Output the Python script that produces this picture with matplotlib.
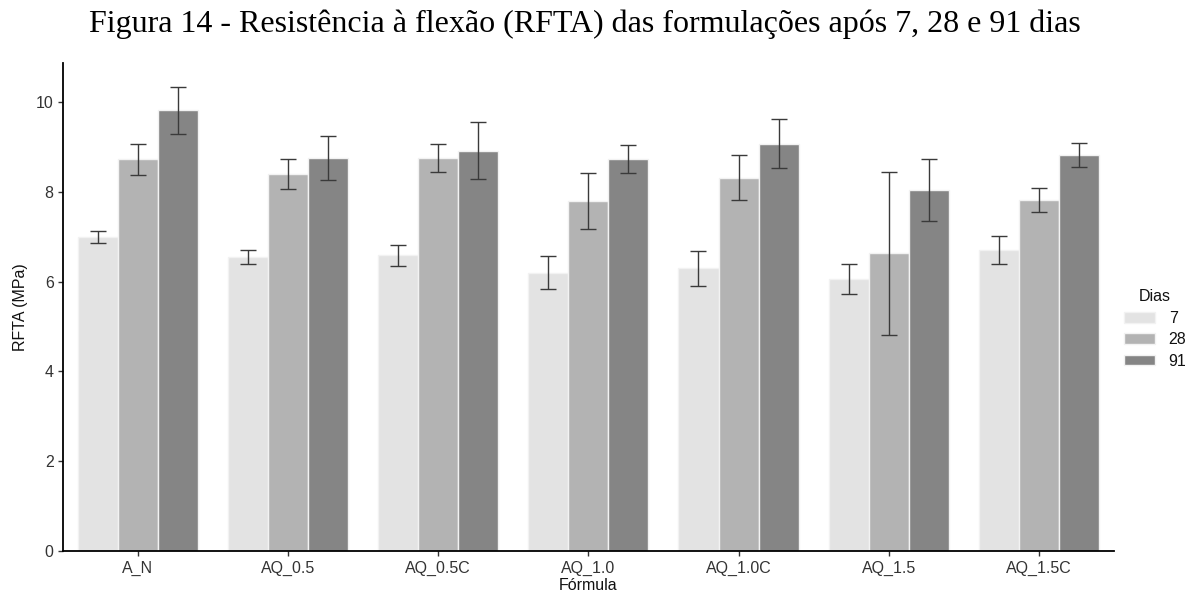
import numpy as np
import matplotlib.pyplot as plt

# values
formulas = ['A_N', 'AQ_0.5', 'AQ_0.5C', 'AQ_1.0', 'AQ_1.0C', 'AQ_1.5', 'AQ_1.5C']
dias = ['7', '28', '91']

rfta_7 = [7.00, 6.55, 6.59, 6.20, 6.30, 6.06, 6.71]
rfta_28 = [8.73, 8.40, 8.76, 7.80, 8.32, 6.63, 7.83]
rfta_91 = [9.82, 8.76, 8.92, 8.73, 9.08, 8.05, 8.83]

err_7 = [0.13, 0.15, 0.23, 0.37, 0.39, 0.33, 0.31]
err_28 = [0.34, 0.33, 0.31, 0.63, 0.50, 1.81, 0.27]
err_91 = [0.52, 0.50, 0.64, 0.31, 0.54, 0.69, 0.27]

colors = ['#e3e3e3', '#b3b3b3', '#858585']

fig = plt.figure(figsize=(11.88, 5.94), dpi=100)
ax = fig.add_axes([62.7 / 1188, 0.0729, (1114 - 62.7) / 1188, 0.8205])

x = np.arange(len(formulas))
w = 0.8 / 3
series = [rfta_7, rfta_28, rfta_91]
errs = [err_7, err_28, err_91]
for i in range(3):
    pos = x + (i - 1) * w
    ax.bar(pos, series[i], width=w, color=colors[i], edgecolor='#f2f2f2',
           linewidth=1.0, label=dias[i], zorder=2)
    ax.errorbar(pos, series[i], yerr=errs[i], fmt='none', ecolor='#3a3a3a',
                elinewidth=1.0, capsize=5.8, capthick=1.0, zorder=3)

ax.set_xlim(-0.5, len(formulas) - 0.5)
ax.set_ylim(0, 10.87)
ax.set_xticks(x)
ax.set_xticklabels(formulas)
ax.set_yticks([0, 2, 4, 6, 8, 10])

for s in ['top', 'right']:
    ax.spines[s].set_visible(False)
for s in ['left', 'bottom']:
    ax.spines[s].set_linewidth(1.3)
    ax.spines[s].set_color('black')
ax.tick_params(axis='both', length=3.5, width=1.0, labelsize=11.5,
               labelcolor='#333333', color='#333333', pad=3)
ax.tick_params(axis='x', pad=4)

ax.set_xlabel('Fórmula', fontsize=11.5, family='Liberation Sans', labelpad=1.5,
              color='#111111')
ax.set_ylabel('RFTA (MPa)', fontsize=11.5, family='Liberation Sans', labelpad=6,
              color='#111111')
for lab in ax.get_xticklabels() + ax.get_yticklabels():
    lab.set_family('Liberation Sans')

leg = fig.legend(*ax.get_legend_handles_labels(), title='Dias', loc='center left',
                 bbox_to_anchor=(1124 / 1188, 1 - 329 / 594), borderaxespad=0,
                 borderpad=0, frameon=False, title_fontsize=11.5,
                 handlelength=1.95, handleheight=0.65, labelspacing=0.4,
                 handletextpad=0.85,
                 prop={'family': 'Liberation Sans', 'size': 11.5})
leg.get_title().set_family('Liberation Sans')
leg.get_title().set_color('#111111')
for t in leg.get_texts():
    t.set_color('#111111')

fig.text(584.5 / 1188, 1 - 24 / 594, 'Figura 14 - Resistência à flexão (RFTA) das formulações após 7, 28 e 91 dias',
         ha='center', va='center', fontsize=23, family='Liberation Serif')

fig.savefig('out.png', dpi=100)
